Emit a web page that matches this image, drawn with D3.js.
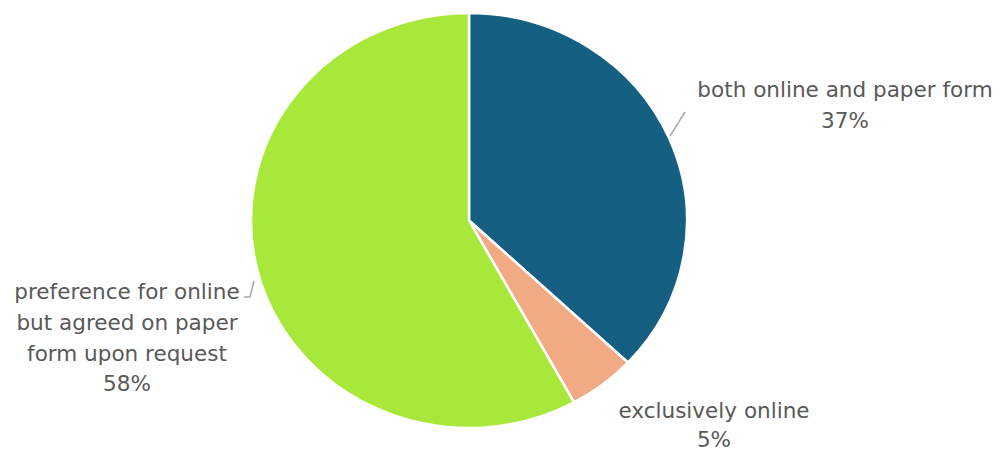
<!DOCTYPE html>
<html>
<head>
<meta charset="utf-8">
<script src="https://cdn.jsdelivr.net/npm/d3@7"></script>
<style>
  body { margin: 0; background: #fff; }
  text { font-family: "DejaVu Sans", sans-serif; fill: #595959; }
</style>
</head>
<body>
<script>
// chart data
var categories = ["both online and paper form", "exclusively online", "preference for online but agreed on paper form upon request"];
var values = [37, 5, 58];
var colors = ["#156082", "#F2AA84", "#A8E83A"];

var width = 1000, height = 453;
var cx = 469, cy = 220.5, r = 207.5, stretch = 218 / 207.5;

var svg = d3.select("body").append("svg")
    .attr("width", width)
    .attr("height", height);

var pie = d3.pie().sort(null).value(function(d) { return d; });
var arc = d3.arc().innerRadius(0).outerRadius(r);
var arcs = pie(values);

var g = svg.append("g")
    .attr("transform", "translate(" + cx + "," + cy + ") scale(" + stretch + ",1)");

g.selectAll("path")
    .data(arcs)
  .enter().append("path")
    .attr("d", arc)
    .attr("fill", function(d, i) { return colors[i]; })
    .attr("stroke", "#fff")
    .attr("stroke-width", 2.5)
    .attr("vector-effect", "non-scaling-stroke");

// labels, placed by hand like the original
var labels = [
  { x: 845, y: 97, dy: 30.8, lines: ["both online and paper form", "37%"] },
  { x: 714, y: 418, dy: 29, lines: ["exclusively online", "5%"] },
  { x: 127, y: 299, dy: 30.8, lines: ["preference for online", "but agreed on paper", "form upon request", "58%"] }
];
labels.forEach(function(l, i) {
  l.lines[l.lines.length - 1] = d3.format(".0f")(values[i]) + "%";
  var t = svg.append("g")
      .attr("transform", "translate(" + l.x + ",0) scale(" + stretch + ",1)")
    .append("text")
      .attr("text-anchor", "middle")
      .attr("font-size", 20.5);
  l.lines.forEach(function(s, j) {
    t.append("tspan").attr("x", 0).attr("y", l.y + j * l.dy).text(s);
  });
});

// leader lines
var leaders = [
  [[670, 136], [685, 112]],
  [[254, 281], [250, 297], [244, 297]]
];
svg.selectAll(".leader")
    .data(leaders)
  .enter().append("path")
    .attr("class", "leader")
    .attr("d", d3.line())
    .attr("fill", "none")
    .attr("stroke", "#A6A6A6")
    .attr("stroke-width", 1.5);
</script>
</body>
</html>
